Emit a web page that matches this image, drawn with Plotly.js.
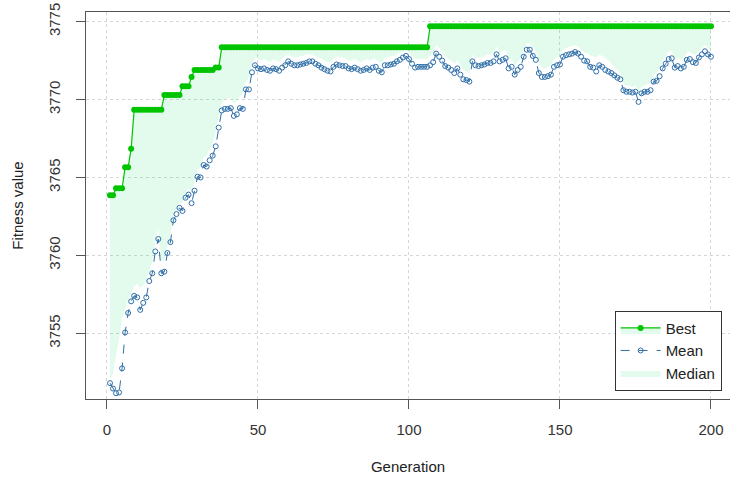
<!DOCTYPE html>
<html>
<head>
<meta charset="utf-8">
<script src="https://cdn.plot.ly/plotly-3.0.1.min.js"></script>
<style>html,body{margin:0;padding:0;overflow:hidden;background:#fff}#chart{width:730px;height:477px}</style>
</head>
<body>
<div id="chart"></div>
<script>
// Generations 1..200
var generations = [];
for (var g = 1; g <= 200; g++) generations.push(g);

var bestValues = [
3763.85,3763.85,3764.3,3764.3,3764.3,3765.65,3765.65,3766.85,3769.35,3769.35,
3769.35,3769.35,3769.35,3769.35,3769.35,3769.35,3769.35,3769.35,3770.3,3770.3,
3770.3,3770.3,3770.3,3770.3,3770.85,3770.85,3770.85,3771.45,3771.9,3771.9,
3771.9,3771.9,3771.9,3771.9,3771.9,3772.05,3772.05,3773.35,3773.35,3773.35,
3773.35,3773.35,3773.35,3773.35,3773.35,3773.35,3773.35,3773.35,3773.35,3773.35,
3773.35,3773.35,3773.35,3773.35,3773.35,3773.35,3773.35,3773.35,3773.35,3773.35,
3773.35,3773.35,3773.35,3773.35,3773.35,3773.35,3773.35,3773.35,3773.35,3773.35,
3773.35,3773.35,3773.35,3773.35,3773.35,3773.35,3773.35,3773.35,3773.35,3773.35,
3773.35,3773.35,3773.35,3773.35,3773.35,3773.35,3773.35,3773.35,3773.35,3773.35,
3773.35,3773.35,3773.35,3773.35,3773.35,3773.35,3773.35,3773.35,3773.35,3773.35,
3773.35,3773.35,3773.35,3773.35,3773.35,3773.35,3774.7,3774.7,3774.7,3774.7,
3774.7,3774.7,3774.7,3774.7,3774.7,3774.7,3774.7,3774.7,3774.7,3774.7,
3774.7,3774.7,3774.7,3774.7,3774.7,3774.7,3774.7,3774.7,3774.7,3774.7,
3774.7,3774.7,3774.7,3774.7,3774.7,3774.7,3774.7,3774.7,3774.7,3774.7,
3774.7,3774.7,3774.7,3774.7,3774.7,3774.7,3774.7,3774.7,3774.7,3774.7,
3774.7,3774.7,3774.7,3774.7,3774.7,3774.7,3774.7,3774.7,3774.7,3774.7,
3774.7,3774.7,3774.7,3774.7,3774.7,3774.7,3774.7,3774.7,3774.7,3774.7,
3774.7,3774.7,3774.7,3774.7,3774.7,3774.7,3774.7,3774.7,3774.7,3774.7,
3774.7,3774.7,3774.7,3774.7,3774.7,3774.7,3774.7,3774.7,3774.7,3774.7,
3774.7,3774.7,3774.7,3774.7,3774.7,3774.7,3774.7,3774.7,3774.7,3774.7
];

var meanValues = [
3751.8,3751.45,3751.15,3751.2,3752.75,3755.05,3756.3,3757.05,3757.4,3757.3,
3756.5,3756.95,3757.3,3758.35,3758.85,3760.25,3761.05,3758.85,3758.95,3760.15,
3760.85,3762.25,3762.65,3763.05,3762.85,3763.7,3763.9,3763.35,3764.15,3765.05,
3765.0,3765.8,3765.7,3766.1,3766.4,3767.0,3768.2,3769.3,3769.4,3769.4,
3769.45,3768.95,3769.05,3769.45,3769.4,3770.65,3770.65,3771.75,3772.2,3772.0,
3771.95,3772.0,3771.9,3771.85,3772.0,3771.95,3771.85,3772.05,3772.2,3772.45,
3772.3,3772.2,3772.2,3772.25,3772.3,3772.35,3772.45,3772.45,3772.3,3772.2,
3772.05,3771.95,3771.85,3771.8,3772.1,3772.25,3772.2,3772.15,3772.15,3772.0,
3771.95,3772.05,3771.95,3771.85,3771.9,3772.0,3771.9,3772.05,3772.1,3771.85,
3771.75,3772.2,3772.2,3772.25,3772.3,3772.45,3772.55,3772.7,3772.8,3772.6,
3772.3,3772.05,3772.1,3772.1,3772.1,3772.1,3772.2,3772.4,3772.95,3772.75,
3772.5,3772.15,3772.05,3771.9,3771.7,3772.0,3771.6,3771.3,3771.25,3771.15,
3772.45,3772.2,3772.15,3772.2,3772.25,3772.35,3772.35,3772.45,3772.9,3772.45,
3772.55,3772.65,3772.0,3772.1,3771.6,3771.9,3772.1,3772.75,3773.2,3773.2,
3772.8,3772.55,3771.7,3771.45,3771.45,3771.5,3771.6,3772.1,3772.2,3772.25,
3772.75,3772.85,3772.9,3772.95,3773.05,3772.95,3772.75,3772.5,3772.45,3772.1,
3772.05,3771.8,3772.2,3772.1,3771.9,3771.8,3771.7,3771.55,3771.4,3771.3,
3770.6,3770.5,3770.5,3770.45,3770.5,3769.85,3770.4,3770.5,3770.5,3770.6,
3771.15,3771.2,3771.5,3772.0,3772.3,3772.6,3772.65,3772.05,3772.15,3772.0,
3772.1,3772.55,3772.6,3772.4,3772.35,3772.7,3772.9,3773.1,3772.9,3772.75
];

var medianValues = [
3752.0,3752.4,3753.6,3754.6,3756.0,3756.6,3757.1,3757.6,3758.0,3758.2,
3757.9,3758.1,3758.4,3759.0,3759.6,3760.9,3761.8,3759.6,3759.7,3760.6,
3761.4,3762.6,3763.0,3763.4,3763.3,3764.0,3764.3,3764.0,3764.7,3765.5,
3765.6,3766.3,3766.4,3766.8,3767.2,3767.9,3768.9,3769.8,3770.0,3770.1,
3770.1,3769.7,3769.9,3770.2,3770.4,3771.2,3771.4,3772.3,3772.7,3772.6,
3772.5,3772.6,3772.5,3772.4,3772.6,3772.5,3772.4,3772.6,3772.8,3772.9,
3772.8,3772.7,3772.7,3772.8,3772.8,3772.9,3772.9,3772.9,3772.8,3772.7,
3772.6,3772.5,3772.4,3772.4,3772.6,3772.8,3772.7,3772.7,3772.6,3772.5,
3772.5,3772.6,3772.5,3772.4,3772.5,3772.6,3772.5,3772.6,3772.6,3772.4,
3772.3,3772.7,3772.7,3772.8,3772.8,3772.9,3773.0,3773.1,3773.2,3773.0,
3772.8,3772.6,3772.6,3772.6,3772.6,3772.6,3772.8,3773.0,3773.5,3773.3,
3773.1,3772.7,3772.6,3772.5,3772.3,3772.5,3772.2,3771.9,3771.8,3771.7,
3772.9,3772.7,3772.7,3772.7,3772.8,3772.9,3772.9,3773.0,3773.4,3773.0,
3773.1,3773.2,3772.6,3772.6,3772.2,3772.4,3772.6,3773.2,3773.6,3773.6,
3773.3,3773.1,3772.3,3772.0,3772.0,3772.1,3772.2,3772.6,3772.7,3772.8,
3773.2,3773.3,3773.4,3773.4,3773.5,3773.4,3773.2,3773.0,3773.0,3772.8,
3772.8,3772.7,3772.9,3772.8,3772.7,3772.5,3772.3,3772.1,3771.9,3771.7,
3771.0,3770.9,3770.9,3770.8,3770.9,3770.4,3770.8,3770.9,3771.0,3771.1,
3771.6,3771.7,3772.0,3772.5,3772.8,3773.1,3773.1,3772.6,3772.7,3772.5,
3772.6,3773.0,3773.1,3772.9,3772.9,3773.1,3773.3,3773.5,3773.3,3773.2
];

var xTicks = [0, 50, 100, 150, 200];
var yTicks = [3755, 3760, 3765, 3770, 3775];

var fillColor = 'rgba(60,225,120,0.14)';
var font = 'Liberation Sans, Arial, sans-serif';

var traces = [
  { x: generations, y: medianValues, type: 'scatter', mode: 'lines',
    line: {width: 0, color: fillColor}, showlegend: false, hoverinfo: 'skip' },
  { x: generations, y: bestValues, type: 'scatter', mode: 'lines+markers', name: 'Best',
    line: {color: '#00c400', width: 1.2},
    marker: {symbol: 'circle', size: 6, color: '#00c400'}, legendrank: 1,
    fill: 'tonexty', fillcolor: fillColor },
  { x: generations, y: meanValues, type: 'scatter', mode: 'lines+markers', name: 'Mean',
    line: {color: '#2f6fa8', width: 1, dash: 'dash'},
    marker: {symbol: 'circle-open', size: 5, color: '#2f6fa8', line: {width: 1}}, legendrank: 2 },
  { x: [null], y: [null], type: 'scatter', mode: 'lines', name: 'Median',
    fill: 'toself', fillcolor: fillColor, line: {width: 0, color: fillColor},
    legendrank: 3 }
];

var layout = {
  width: 730, height: 477,
  margin: {l: 86, r: 0, t: 12, b: 78},
  paper_bgcolor: '#fff', plot_bgcolor: '#fff',
  font: {family: font, size: 15, color: '#333'},
  showlegend: true,
  legend: {
    x: 0.987, y: 0.0214, xanchor: 'right', yanchor: 'bottom',
    bordercolor: '#333', borderwidth: 1, bgcolor: '#fff',
    font: {family: font, size: 15, color: '#222'},
    traceorder: 'normal', tracegroupgap: 0, itemwidth: 40
  },
  xaxis: {
    range: [-6.95, 206.3], tickvals: xTicks, ticktext: xTicks.map(String),
    showline: true, mirror: true, linecolor: '#555', linewidth: 1,
    ticks: 'outside', ticklen: 9, tickcolor: '#555', ticklabelstandoff: 8,
    showgrid: true, gridcolor: '#d6d6d6', griddash: 'dot', gridwidth: 1,
    zeroline: false,
    title: {text: 'Generation', font: {family: font, size: 15, color: '#222'}, standoff: 24}
  },
  yaxis: {
    range: [3750.78, 3775.62], tickvals: yTicks, ticktext: yTicks.map(String),
    tickangle: -90,
    showline: true, mirror: false, linecolor: '#555', linewidth: 1,
    ticks: 'outside', ticklen: 9, tickcolor: '#555', ticklabelstandoff: 10,
    showgrid: true, gridcolor: '#d6d6d6', griddash: 'dot', gridwidth: 1,
    zeroline: false,
    title: {text: 'Fitness value', font: {family: font, size: 15, color: '#222'}, standoff: 18}
  }
};

Plotly.newPlot('chart', traces, layout, {displayModeBar: false, staticPlot: true});
</script>
</body>
</html>
